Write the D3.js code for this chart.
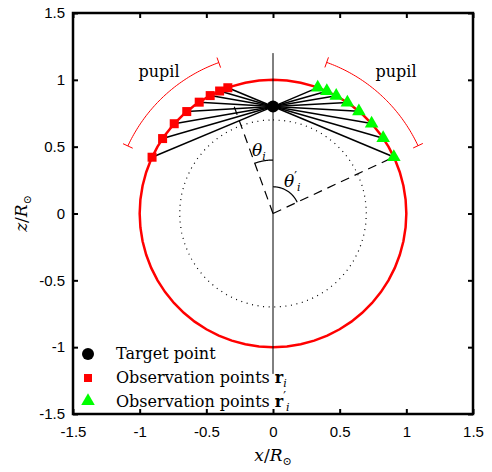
<!DOCTYPE html>
<html>
<head>
<meta charset="utf-8">
<script src="https://cdn.jsdelivr.net/npm/d3@7"></script>
<style>
  body { margin: 0; background: #fff; }
  svg { font-family: "DejaVu Serif", "Liberation Serif", serif; }
  .tick text { font-size: 15px; fill: #000; }
</style>
</head>
<body>
<svg id="chart" width="492" height="472"></svg>
<script>
"use strict";

// axis ticks
const tickValues = [-1.5, -1, -0.5, 0, 0.5, 1, 1.5];
const tickLabels = ["-1.5", "-1", "-0.5", "0", "0.5", "1", "1.5"];

// target point (x, z)
const targetPoint = [0, 0.8];

// observation points: angle from +z axis in degrees (left = -x side, right = +x side)
const obsAnglesLeft = [19.8, 23.6, 28.1, 33.6, 40.3, 47.8, 55.9, 65.1];
const obsAnglesRight = [19.6, 23.8, 28.3, 33.9, 40.1, 47.7, 55.7, 65.0];

// circles / guides (in solar radii)
const sunRadius = 1;
const dottedRadius = 0.7;
const pupilRadius = 1.2;
const thetaDashAngle = -20;   // dashed ray for theta_i
const thetaDashLength = 0.85;
const verticalLine = [-1.2, 1.2];

const legendLabels = ["Target point", "Observation points ", "Observation points "];

const margin = {top: 13, right: 19, bottom: 58, left: 73},
    width = 400,
    height = 401;

const svg = d3.select("#chart");

const xScale = d3.scaleLinear().domain([-1.5, 1.5]).range([margin.left, margin.left + width]);
const yScale = d3.scaleLinear().domain([-1.5, 1.5]).range([margin.top + height, margin.top]);

const rad = d => d * Math.PI / 180;
// angle from vertical; negative angle -> left side
const polar = (r, a) => [r * Math.sin(rad(a)), r * Math.cos(rad(a))];

const line = d3.line()
    .x(d => xScale(d[0]))
    .y(d => yScale(d[1]));

const arcPoints = (r, a0, a1) => d3.range(0, 61).map(k => polar(r, a0 + (a1 - a0) * k / 60));

// axes with inward ticks
svg.append("g")
    .attr("transform", "translate(0," + yScale(-1.5) + ")")
    .call(d3.axisBottom(xScale).tickValues(tickValues).tickSizeInner(-5).tickSizeOuter(0)
        .tickPadding(12).tickFormat((d, i) => tickLabels[i]));
svg.append("g")
    .attr("transform", "translate(" + xScale(-1.5) + ",0)")
    .call(d3.axisLeft(yScale).tickValues(tickValues).tickSizeInner(-5).tickSizeOuter(0)
        .tickPadding(8).tickFormat((d, i) => tickLabels[i]));
svg.append("g")
    .attr("transform", "translate(0," + yScale(1.5) + ")")
    .call(d3.axisTop(xScale).tickValues(tickValues).tickSizeInner(-5).tickSizeOuter(0).tickFormat(""));
svg.append("g")
    .attr("transform", "translate(" + xScale(1.5) + ",0)")
    .call(d3.axisRight(yScale).tickValues(tickValues).tickSizeInner(-5).tickSizeOuter(0).tickFormat(""));

svg.selectAll(".domain").remove();
svg.selectAll(".tick line").attr("stroke", "#000").attr("stroke-width", 2);

svg.append("rect")
    .attr("x", xScale(-1.5))
    .attr("y", yScale(1.5))
    .attr("width", xScale(1.5) - xScale(-1.5))
    .attr("height", yScale(-1.5) - yScale(1.5))
    .attr("fill", "none")
    .attr("stroke", "#000")
    .attr("stroke-width", 2.5);

// axis titles
const xTitle = svg.append("text")
    .attr("x", xScale(0))
    .attr("y", 461)
    .attr("text-anchor", "middle")
    .style("font-size", "17px");
xTitle.append("tspan").attr("font-style", "italic").text("x");
xTitle.append("tspan").text("/");
xTitle.append("tspan").attr("font-style", "italic").text("R");
xTitle.append("tspan").attr("font-size", "11px").attr("dy", 4).text("⊙");

const yTitle = svg.append("text")
    .attr("transform", "translate(27," + yScale(0) + ") rotate(-90)")
    .attr("text-anchor", "middle")
    .style("font-size", "17px");
yTitle.append("tspan").attr("font-style", "italic").text("z");
yTitle.append("tspan").text("/");
yTitle.append("tspan").attr("font-style", "italic").text("R");
yTitle.append("tspan").attr("font-size", "11px").attr("dy", 4).text("⊙");

// sun and inner dotted circle
svg.append("path")
    .datum(arcPoints(sunRadius, 0, 360))
    .attr("d", line)
    .attr("fill", "none")
    .attr("stroke", "#ff0000")
    .attr("stroke-width", 2.5);

svg.append("path")
    .datum(arcPoints(dottedRadius, 0, 360))
    .attr("d", line)
    .attr("fill", "none")
    .attr("stroke", "#000")
    .attr("stroke-width", 1.2)
    .attr("stroke-dasharray", "1,4.6");

// vertical axis line
svg.append("path")
    .datum([[0, verticalLine[0]], [0, verticalLine[1]]])
    .attr("d", line)
    .attr("stroke", "#000")
    .attr("stroke-width", 1);

// dashed rays
const lastRight = obsAnglesRight[obsAnglesRight.length - 1];
svg.append("path")
    .datum([[0, 0], polar(thetaDashLength, thetaDashAngle)])
    .attr("d", line)
    .attr("stroke", "#000")
    .attr("stroke-width", 1.2)
    .attr("stroke-dasharray", "9,6");
svg.append("path")
    .datum([[0, 0], polar(sunRadius, lastRight)])
    .attr("d", line)
    .attr("stroke", "#000")
    .attr("stroke-width", 1.2)
    .attr("stroke-dasharray", "9,6");

// angle arcs
svg.append("path")
    .datum(arcPoints(0.4, thetaDashAngle, 0))
    .attr("d", line)
    .attr("fill", "none")
    .attr("stroke", "#000")
    .attr("stroke-width", 1.2);
svg.append("path")
    .datum(arcPoints(0.2, 0, lastRight))
    .attr("d", line)
    .attr("fill", "none")
    .attr("stroke", "#000")
    .attr("stroke-width", 1.2);

const thetaI = svg.append("text")
    .attr("x", 252)
    .attr("y", 156)
    .style("font-size", "17px")
    .attr("font-style", "italic");
thetaI.append("tspan").text("θ");
thetaI.append("tspan").attr("font-size", "11px").attr("dy", 4).text("i");

const thetaP = svg.append("text")
    .attr("x", 284)
    .attr("y", 187)
    .style("font-size", "17px")
    .attr("font-style", "italic");
thetaP.append("tspan").text("θ");
thetaP.append("tspan").attr("font-size", "12px").attr("dy", -6).attr("font-style", "normal").text("′");
thetaP.append("tspan").attr("font-size", "11px").attr("dy", 10).text("i");

// pupil arcs with end caps
function drawPupil(a0, a1, labelX) {
    svg.append("path")
        .datum(arcPoints(pupilRadius, a0, a1))
        .attr("d", line)
        .attr("fill", "none")
        .attr("stroke", "#ff0000")
        .attr("stroke-width", 1);
    [a0, a1].forEach(a => {
        svg.append("path")
            .datum([polar(pupilRadius - 0.04, a), polar(pupilRadius + 0.04, a)])
            .attr("d", line)
            .attr("stroke", "#ff0000")
            .attr("stroke-width", 1);
    });
    svg.append("text")
        .attr("x", labelX)
        .attr("y", 77)
        .attr("text-anchor", "middle")
        .style("font-size", "16px")
        .text("pupil");
}
drawPupil(-obsAnglesLeft[0], -obsAnglesLeft[obsAnglesLeft.length - 1], 159);
drawPupil(obsAnglesRight[0], lastRight, 396);

// lines of sight
const leftPts = obsAnglesLeft.map(a => polar(sunRadius, -a));
const rightPts = obsAnglesRight.map(a => polar(sunRadius, a));

svg.selectAll(".los")
    .data(leftPts.concat(rightPts))
    .enter().append("path")
    .attr("class", "los")
    .attr("d", d => line([targetPoint, d]))
    .attr("stroke", "#000")
    .attr("stroke-width", 1.5);

// markers
svg.selectAll(".sq")
    .data(leftPts)
    .enter().append("rect")
    .attr("class", "sq")
    .attr("x", d => xScale(d[0]) - 4.5)
    .attr("y", d => yScale(d[1]) - 4.5)
    .attr("width", 9)
    .attr("height", 9)
    .attr("fill", "#ff0000");

const tri = d3.symbol().type(d3.symbolTriangle).size(80);
svg.selectAll(".tri")
    .data(rightPts)
    .enter().append("path")
    .attr("class", "tri")
    .attr("transform", d => "translate(" + xScale(d[0]) + "," + yScale(d[1]) + ")")
    .attr("d", tri)
    .attr("fill", "#00ff00");

svg.append("circle")
    .attr("cx", xScale(targetPoint[0]))
    .attr("cy", yScale(targetPoint[1]))
    .attr("r", 6)
    .attr("fill", "#000");

// legend
const legend = svg.append("g").attr("transform", "translate(88,354)");
legend.append("circle").attr("cx", 0).attr("cy", 0).attr("r", 6).attr("fill", "#000");
legend.append("rect").attr("x", -4).attr("y", 20).attr("width", 8).attr("height", 8).attr("fill", "#ff0000");
legend.append("path").attr("transform", "translate(0,47)").attr("d", tri).attr("fill", "#00ff00");

legendLabels.forEach((lab, i) => {
    const t = legend.append("text")
        .attr("x", 28)
        .attr("y", 5 + i * 24)
        .style("font-size", "16px")
        .text(lab);
    if (i > 0) {
        t.append("tspan").attr("font-weight", "bold").text("r");
        if (i === 2) {
            t.append("tspan").attr("font-size", "12px").attr("dy", -6).text("′");
            t.append("tspan").attr("font-size", "11px").attr("font-style", "italic").attr("dy", 10).text("i");
        } else {
            t.append("tspan").attr("font-size", "11px").attr("font-style", "italic").attr("dy", 4).text("i");
        }
    }
});
</script>
</body>
</html>
